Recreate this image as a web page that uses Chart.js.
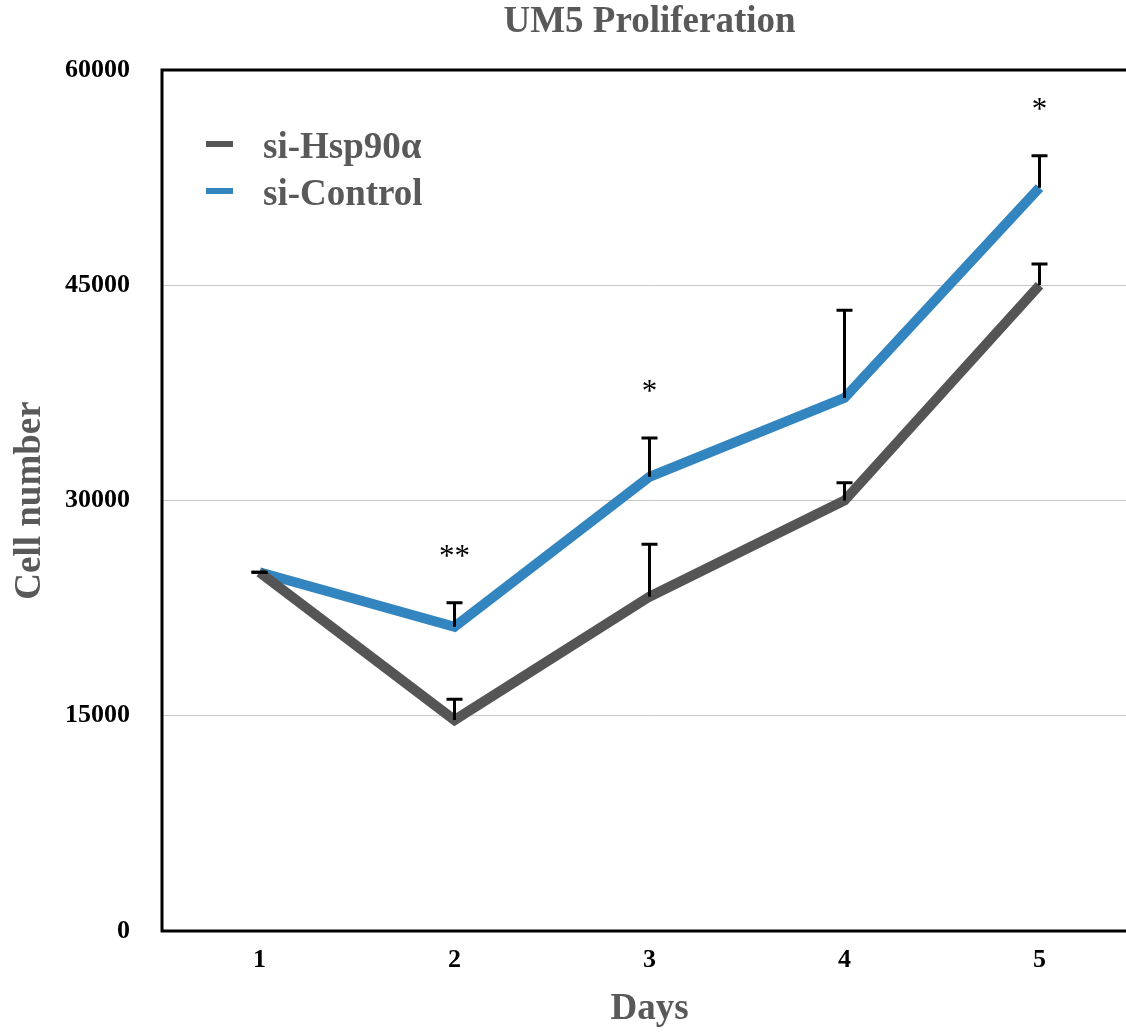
<!DOCTYPE html>
<html>
<head>
<meta charset="utf-8">
<title>UM5 Proliferation</title>
<script src="https://cdn.jsdelivr.net/npm/chart.js@4.4.1/dist/chart.umd.min.js"></script>
<style>
  html, body { margin: 0; padding: 0; background: #fff; overflow: hidden; }
  #wrap { width: 1140px; height: 1035px; }
</style>
</head>
<body>
<div id="wrap"><canvas id="chart" width="1140" height="1035"></canvas></div>
<script>
const days = ["1", "2", "3", "4", "5"];
const hspValues = [25000, 14700, 23300, 30000, 45000];
const hspErr = [0, 1450, 3650, 1240, 1480];
const ctrlValues = [25000, 21200, 31650, 37150, 51800];
const ctrlErr = [0, 1680, 2700, 6100, 2230];
const sigMarks = ["", "**", "*", "", "*"];
const yTicks = [0, 15000, 30000, 45000, 60000];

const GRAY = "#555555";
const BLUE = "#3385c0";
const TEXT_GRAY = "#595959";
const SERIF = "'Liberation Serif', 'Times New Roman', serif";

// error bars (upper only), significance stars, frame, legend and title
const decor = {
  id: "decor",
  afterDatasetsDraw(chart) {
    const { ctx, chartArea: a, scales: { x, y } } = chart;
    ctx.save();
    ctx.strokeStyle = "#000";
    ctx.lineWidth = 3;
    const sets = [
      [hspValues, hspErr],
      [ctrlValues, ctrlErr],
    ];
    sets.forEach(([vals, errs]) => {
      vals.forEach((v, i) => {
        const px = x.getPixelForValue(i);
        const y0 = y.getPixelForValue(v);
        const y1 = y.getPixelForValue(v + errs[i]);
        ctx.beginPath();
        ctx.moveTo(px, y0);
        ctx.lineTo(px, y1);
        ctx.moveTo(px - 8, y1);
        ctx.lineTo(px + 8, y1);
        ctx.stroke();
      });
    });

    ctx.fillStyle = "#000";
    ctx.font = "31px " + SERIF;
    ctx.textAlign = "center";
    ctx.textBaseline = "alphabetic";
    sigMarks.forEach((m, i) => {
      if (!m) return;
      const top = y.getPixelForValue(ctrlValues[i] + ctrlErr[i]);
      ctx.fillText(m, x.getPixelForValue(i), top - 37);
    });

    // frame: left, top, bottom
    ctx.lineWidth = 3;
    ctx.beginPath();
    ctx.moveTo(a.right + 5, a.top);
    ctx.lineTo(a.left, a.top);
    ctx.lineTo(a.left, a.bottom);
    ctx.lineTo(a.right + 5, a.bottom);
    ctx.stroke();

    // legend
    ctx.font = "bold 37px " + SERIF;
    ctx.textAlign = "left";
    ctx.textBaseline = "middle";
    chart.data.datasets.forEach((ds, i) => {
      const ly = a.top + 74 + i * 47;
      ctx.fillStyle = ds.borderColor;
      ctx.fillRect(a.left + 44, ly - 3, 27, 6);
      ctx.fillStyle = TEXT_GRAY;
      ctx.fillText(ds.label, a.left + 101, ly + 4);
    });

    // title
    ctx.font = "bold 37px " + SERIF;
    ctx.textAlign = "center";
    ctx.fillText("UM5 Proliferation", (a.left + a.right) / 2, 22);
    ctx.restore();
  },
};

new Chart(document.getElementById("chart"), {
  type: "line",
  data: {
    labels: days,
    datasets: [
      {
        label: "si-Hsp90α",
        data: hspValues,
        borderColor: GRAY,
        borderWidth: 10,
        borderJoinStyle: "miter",
        pointRadius: 0,
        tension: 0,
      },
      {
        label: "si-Control",
        data: ctrlValues,
        borderColor: BLUE,
        borderWidth: 10,
        borderJoinStyle: "miter",
        pointRadius: 0,
        tension: 0,
      },
    ],
  },
  options: {
    responsive: false,
    animation: false,
    layout: { padding: { top: 70, left: 0, right: 3, bottom: 0 } },
    plugins: {
      legend: { display: false },
      tooltip: { enabled: false },
    },
    scales: {
      x: {
        offset: true,
        grid: { display: false, drawTicks: false },
        border: { display: false },
        ticks: {
          padding: 14,
          color: "#000",
          font: { family: SERIF, size: 26, weight: "bold" },
        },
        title: {
          display: true,
          text: "Days",
          color: TEXT_GRAY,
          font: { family: SERIF, size: 37, weight: "bold" },
          padding: { top: 0, bottom: 3 },
        },
        afterFit(scale) { scale.height = 104; },
      },
      y: {
        min: 0,
        max: 60000,
        afterBuildTicks(scale) { scale.ticks = yTicks.map((v) => ({ value: v })); },
        grid: {
          drawTicks: false,
          color: (c) => (c.tick && (c.tick.value === 0 || c.tick.value === 60000)) ? "rgba(0,0,0,0)" : "#c8c8c8",
          lineWidth: 1,
        },
        border: { display: false },
        ticks: {
          padding: 32,
          color: "#000",
          font: { family: SERIF, size: 26, weight: "bold" },
          callback: (v) => String(v),
        },
        title: {
          display: true,
          text: "Cell number",
          color: TEXT_GRAY,
          font: { family: SERIF, size: 37, weight: "bold" },
          padding: { top: 8, bottom: 0 },
        },
        afterFit(scale) { scale.width = 162; },
      },
    },
  },
  plugins: [decor],
});
</script>
</body>
</html>
